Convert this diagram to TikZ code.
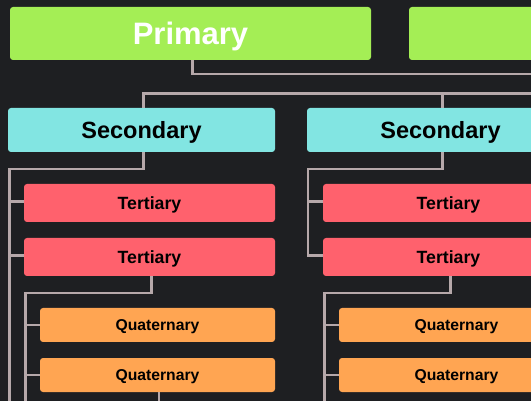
\documentclass[tikz,border=0pt]{standalone}
\usepackage{fontspec}
\setmainfont{Liberation Sans}
\definecolor{bg}{HTML}{1E1F22}
\definecolor{cgreen}{HTML}{A4EE55}
\definecolor{ccyan}{HTML}{82E5E2}
\definecolor{cred}{HTML}{FF616D}
\definecolor{corange}{HTML}{FFA552}
\definecolor{cline}{HTML}{B6A8AA}
\begin{document}
\begin{tikzpicture}[x=1pt,y=-1pt,
  box/.style={rectangle,rounded corners=3pt,inner sep=0pt,anchor=center,draw=none,text depth=0pt},
  lvlone/.style={box,fill=cgreen,minimum width=361pt,minimum height=53pt,text=white,text height=22.2pt,font=\bfseries\fontsize{31}{31}\selectfont},
  lvltwo/.style={box,fill=ccyan,minimum width=267pt,minimum height=44pt,text=black,text height=16.8pt,font=\bfseries\fontsize{23.5}{23.5}\selectfont},
  lvlthree/.style={box,fill=cred,minimum width=251pt,minimum height=38pt,text=black,text height=12.7pt,font=\bfseries\fontsize{17.7}{17.7}\selectfont},
  lvlfour/.style={box,fill=corange,minimum width=235pt,minimum height=34pt,text=black,text height=11.2pt,font=\bfseries\fontsize{15.7}{15.7}\selectfont},
  link/.style={draw=cline,line width=2.7pt}]
\useasboundingbox (0,0) rectangle (531,401);
\fill[bg] (0,0) rectangle (531,401);
\clip (0,0) rectangle (531,401);
% nodes
\node[lvlone] (p1) at (190.5,33.5) {Primary};
\node[lvlone] (p2) at (589.5,33.5) {};
\node[lvltwo] (s1) at (141.5,130) {Secondary};
\node[lvltwo] (s2) at (440.5,130) {Secondary};
\node[lvlthree] (t1) at (149.5,203) {Tertiary};
\node[lvlthree] (t2) at (149.5,257) {Tertiary};
\node[lvlthree] (t3) at (448.5,203) {Tertiary};
\node[lvlthree] (t4) at (448.5,257) {Tertiary};
\node[lvlfour] (q1) at (157.5,325) {Quaternary};
\node[lvlfour] (q2) at (157.5,375) {Quaternary};
\node[lvlfour] (q3) at (456.5,325) {Quaternary};
\node[lvlfour] (q4) at (456.5,375) {Quaternary};
% junction coordinates
\coordinate (pr) at (545,74);
\coordinate (sr) at (545,93.5);
\coordinate (ls) at (9.5,169);
\coordinate (lsb) at (9.5,415);
\coordinate (rs) at (308,169);
\coordinate (lq) at (25.5,293);
\coordinate (lqb) at (25.5,415);
\coordinate (rq) at (324.5,293);
\coordinate (rqb) at (324.5,415);
% connectors
\draw[link] ([xshift=1.8pt]p1.south) |- (pr);
\draw[link] ([xshift=1.8pt]s1.north) |- (sr);
\draw[link] ([xshift=2pt]s2.north) -- ([xshift=2pt]s2.north |- sr);
\draw[link] ([xshift=1.8pt]s1.south) |- (ls) -- (lsb);
\draw[link] ([yshift=1.5pt]t1.west -| ls) -- ([yshift=1.5pt]t1.west);
\draw[link] ([yshift=1.5pt]t2.west -| ls) -- ([yshift=1.5pt]t2.west);
\draw[link] ([xshift=2pt]s2.south) |- (rs) |- ([yshift=1.5pt]t4.west);
\draw[link] ([yshift=1.5pt]t3.west -| rs) -- ([yshift=1.5pt]t3.west);
\draw[link] ([xshift=2pt]t2.south) |- (lq) -- (lqb);
\draw[link] (q1.west -| lq) -- (q1.west);
\draw[link] (q2.west -| lq) -- (q2.west);
\draw[link] ([xshift=2pt]t4.south) |- (rq) -- (rqb);
\draw[link] (q3.west -| rq) -- (q3.west);
\draw[link] (q4.west -| rq) -- (q4.west);
\draw[link] ([xshift=1.5pt]q2.south) -- ++(0,30);
\end{tikzpicture}
\end{document}
